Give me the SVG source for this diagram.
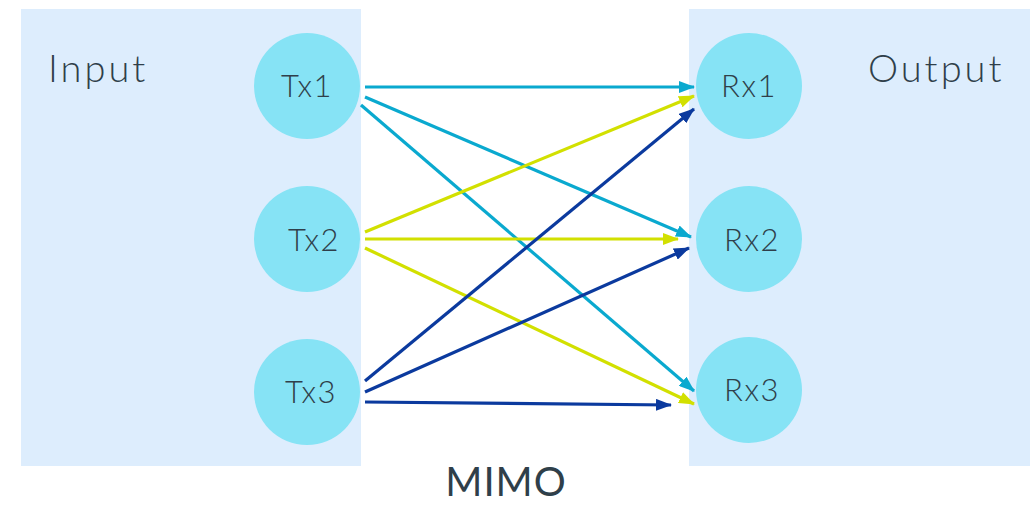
<svg xmlns="http://www.w3.org/2000/svg" width="1030" height="505" viewBox="0 0 1030 505">
<style>
.panel{fill:#ddedfd}
.node{fill:#86e3f5}
.lbl{font-family:Lato,"Open Sans",sans-serif;font-weight:300;fill:#2f3f4a}
.nl{font-size:31px;text-anchor:middle;letter-spacing:1.5px}
.big{font-size:38px;letter-spacing:3px}
.c{stroke:#0aa9cf;stroke-width:3.2;fill:none}
.y{stroke:#d2e000;stroke-width:3.2;fill:none}
.b{stroke:#0b3a9e;stroke-width:3.2;fill:none}
</style>
<defs>
<marker id="ac" markerWidth="16" markerHeight="12" refX="15" refY="6" orient="auto" markerUnits="userSpaceOnUse"><path d="M0,0 L16,6 L0,12 Z" fill="#0aa9cf"/></marker>
<marker id="ay" markerWidth="16" markerHeight="12" refX="15" refY="6" orient="auto" markerUnits="userSpaceOnUse"><path d="M0,0 L16,6 L0,12 Z" fill="#d2e000"/></marker>
<marker id="ab" markerWidth="16" markerHeight="12" refX="15" refY="6" orient="auto" markerUnits="userSpaceOnUse"><path d="M0,0 L16,6 L0,12 Z" fill="#0b3a9e"/></marker>
</defs>
<g id="input-panel"><rect class="panel" x="21" y="9" width="340" height="457"/><text class="lbl big" x="48" y="82">Input</text></g>
<g id="output-panel"><rect class="panel" x="689" y="9" width="341" height="457"/><text class="lbl big" x="868" y="82">Output</text></g>
<g id="tx1"><circle class="node" cx="307" cy="86" r="53"/><text class="lbl nl" x="307" y="97">Tx1</text></g>
<g id="tx2"><circle class="node" cx="307" cy="239" r="53"/><text class="lbl nl" x="314" y="251">Tx2</text></g>
<g id="tx3"><circle class="node" cx="307" cy="392" r="53"/><text class="lbl nl" x="311" y="403">Tx3</text></g>
<g id="rx1"><circle class="node" cx="749" cy="86" r="53"/><text class="lbl nl" x="749" y="97">Rx1</text></g>
<g id="rx2"><circle class="node" cx="749" cy="239" r="53"/><text class="lbl nl" x="752" y="251">Rx2</text></g>
<g id="rx3"><circle class="node" cx="749" cy="390" r="53"/><text class="lbl nl" x="752" y="401">Rx3</text></g>
<g id="connectors">
<line class="c" x1="365" y1="87" x2="694" y2="87" marker-end="url(#ac)"/>
<line class="c" x1="365" y1="97" x2="691" y2="237" marker-end="url(#ac)"/>
<line class="c" x1="361" y1="105" x2="694" y2="391" marker-end="url(#ac)"/>
<line class="y" x1="365" y1="232" x2="694" y2="96" marker-end="url(#ay)"/>
<line class="y" x1="365" y1="239" x2="678" y2="239" marker-end="url(#ay)"/>
<line class="y" x1="365" y1="248" x2="694" y2="404" marker-end="url(#ay)"/>
<line class="b" x1="365" y1="381" x2="694" y2="109" marker-end="url(#ab)"/>
<line class="b" x1="365" y1="392" x2="689" y2="248" marker-end="url(#ab)"/>
<line class="b" x1="365" y1="402" x2="671" y2="405" marker-end="url(#ab)"/>
</g>
<text class="lbl" x="506" y="496" font-size="40" text-anchor="middle" style="font-weight:400;letter-spacing:1px">MIMO</text>
</svg>
